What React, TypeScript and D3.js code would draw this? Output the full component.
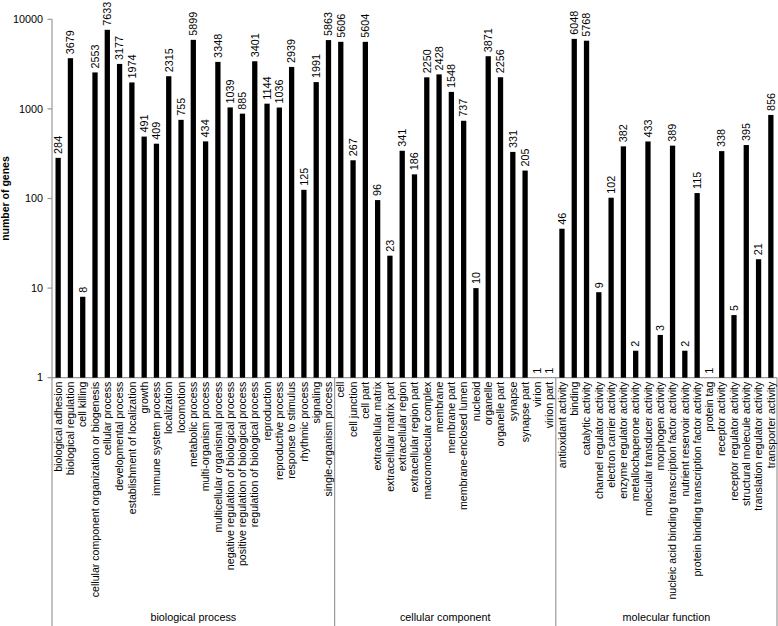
import React from "react";
import * as d3 from "d3";

const groups = ["biological process", "cellular component", "molecular function"];

const bpCategories = [
  "biological adhesion", "biological regulation", "cell killing",
  "cellular component organization or biogenesis", "cellular process",
  "developmental process", "establishment of localization", "growth",
  "immune system process", "localization", "locomotion", "metabolic process",
  "multi-organism process", "multicellular organismal process",
  "negative regulation of biological process", "positive regulation of biological process",
  "regulation of biological process", "reproduction", "reproductive process",
  "response to stimulus", "rhythmic process", "signaling", "single-organism process",
];
const bpValues = [284, 3679, 8, 2553, 7633, 3177, 1974, 491, 409, 2315, 755, 5899, 434, 3348, 1039, 885, 3401, 1144, 1036, 2939, 125, 1991, 5863];

const ccCategories = [
  "cell", "cell junction", "cell part", "extracellular matrix", "extracellular matrix part",
  "extracellular region", "extracellular region part", "macromolecular complex", "membrane",
  "membrane part", "membrane-enclosed lumen", "nucleoid", "organelle", "organelle part",
  "synapse", "synapse part", "virion", "virion part",
];
const ccValues = [5606, 267, 5604, 96, 23, 341, 186, 2250, 2428, 1548, 737, 10, 3871, 2256, 331, 205, 1, 1];

const mfCategories = [
  "antioxidant activity", "binding", "catalytic activity", "channel regulator activity",
  "electron carrier activity", "enzyme regulator activity", "metallochaperone activity",
  "molecular transducer activity", "morphogen activity",
  "nucleic acid binding transcription factor activity", "nutrient reservoir activity",
  "protein binding transcription factor activity", "protein tag", "receptor activity",
  "receptor regulator activity", "structural molecule activity",
  "translation regulator activity", "transporter activity",
];
const mfValues = [46, 6048, 5768, 9, 102, 382, 2, 433, 3, 389, 2, 115, 1, 338, 5, 395, 21, 856];

const yTicks = [1, 10, 100, 1000, 10000];

const W = 778;
const H = 626;
const FONT = "'Liberation Sans', Arial, sans-serif";

export default function App() {
  const groupCats = [bpCategories, ccCategories, mfCategories];
  const groupVals = [bpValues, ccValues, mfValues];
  const rows: { key: string; name: string; value: number; group: number }[] = [];
  groupCats.forEach((cats, g) =>
    cats.forEach((c, i) => rows.push({ key: g + ":" + c, name: c, value: groupVals[g][i], group: g }))
  );

  const left = 52;
  const right = 777;
  const top = 19.3;
  const bottom = 377.7;

  const x = d3.scaleBand<string>().domain(rows.map((r) => r.key)).range([left, right]).padding(0);
  const y = d3.scaleLog().domain([1, 10000]).range([bottom, top]);
  const bw = x.bandwidth() * 0.43;

  // group boundaries
  const bounds: number[] = [left];
  let acc = 0;
  groupCats.forEach((cats) => {
    acc += cats.length;
    const k = rows[acc - 1].key;
    bounds.push((x(k) as number) + x.bandwidth());
  });

  const axisColor = "#999";

  return (
    <svg
      width={W}
      height={H}
      style={{ position: "absolute", left: 0, top: 0, background: "#fff" }}
      fontFamily={FONT}
    >
      {/* y axis */}
      <line x1={left} x2={left} y1={top} y2={H} stroke={axisColor} strokeWidth={1.2} />
      {yTicks.map((t) => (
        <g key={t}>
          <line x1={left - 4.5} x2={left} y1={y(t)} y2={y(t)} stroke={axisColor} strokeWidth={1.2} />
          <text x={left - 9} y={y(t)} dy="0.35em" textAnchor="end" fontSize={10.8} fill="#000">
            {t}
          </text>
        </g>
      ))}
      <text
        transform={`translate(9, ${(top + bottom) / 2}) rotate(-90)`}
        textAnchor="middle"
        fontSize={10.5}
        fontWeight="bold"
        fill="#000"
      >
        number of genes
      </text>

      {/* x axis */}
      <line x1={left} x2={right} y1={bottom} y2={bottom} stroke={axisColor} strokeWidth={1.2} />
      {bounds.slice(1).map((b, i) => (
        <line key={i} x1={b} x2={b} y1={bottom} y2={H} stroke={axisColor} strokeWidth={1.2} />
      ))}

      {/* bars */}
      {rows.map((r) => {
        const cx = (x(r.key) as number) + x.bandwidth() / 2;
        const yt = y(r.value);
        return (
          <g key={r.key}>
            <rect x={cx - bw / 2} y={yt} width={bw} height={bottom - yt} fill="#000" />
            <text
              transform={`translate(${cx}, ${yt - 4}) rotate(-90)`}
              dy="0.35em"
              textAnchor="start"
              fontSize={10.8}
              fill="#000"
            >
              {r.value}
            </text>
            <text
              transform={`translate(${cx}, ${bottom + 4}) rotate(-90)`}
              dy="0.35em"
              textAnchor="end"
              fontSize={10.6}
              fill="#000"
            >
              {r.name}
            </text>
          </g>
        );
      })}

      {/* group labels */}
      {groups.map((g, i) => (
        <text
          key={g}
          x={(bounds[i] + bounds[i + 1]) / 2}
          y={621}
          textAnchor="middle"
          fontSize={10.8}
          fill="#000"
        >
          {g}
        </text>
      ))}
    </svg>
  );
}
